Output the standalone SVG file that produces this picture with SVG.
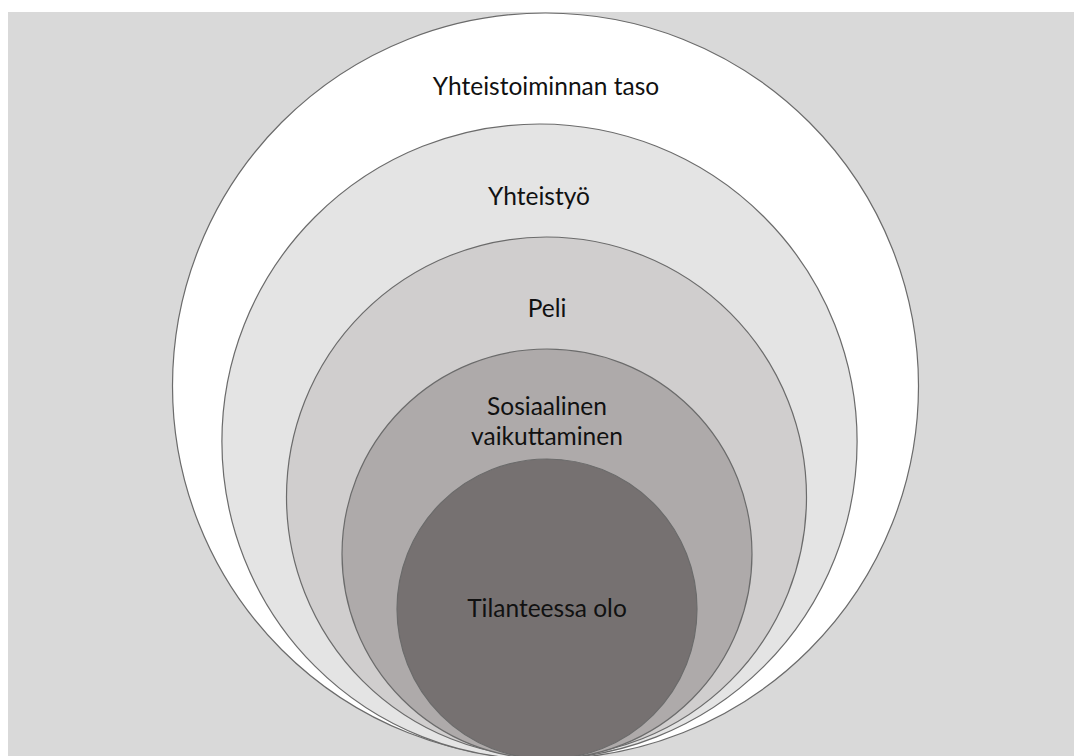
<svg xmlns="http://www.w3.org/2000/svg" width="1074" height="756" viewBox="0 0 1074 756">
<style>
.ring{stroke:#6b6b6b;stroke-width:1.2}
.lbl{font-family:Lato,"Open Sans","Liberation Sans",sans-serif;font-size:24.5px;fill:#111;text-anchor:middle}
</style>
<rect x="0" y="0" width="1074" height="756" fill="#ffffff"/>
<rect x="8" y="12" width="1066" height="744" fill="#d9d9d9"/>
<g id="n1"><circle class="ring" cx="545.5" cy="386" r="373" fill="#ffffff"/><text class="lbl" x="546" y="95">Yhteistoiminnan taso</text></g>
<g id="n2"><circle class="ring" cx="539.5" cy="441.6" r="317.6" fill="#e4e4e4"/><text class="lbl" x="539" y="205">Yhteistyö</text></g>
<g id="n3"><circle class="ring" cx="546.5" cy="497" r="260" fill="#d0cece"/><text class="lbl" x="547" y="317">Peli</text></g>
<g id="n4"><circle class="ring" cx="547" cy="554" r="205" fill="#aeaaaa"/><text class="lbl" x="547" y="415">Sosiaalinen</text><text class="lbl" x="547" y="445">vaikuttaminen</text></g>
<g id="n5"><circle class="ring" cx="547" cy="609" r="150" fill="#767171"/><text class="lbl" x="547" y="617">Tilanteessa olo</text></g>
<g id="connectors"></g>
</svg>
